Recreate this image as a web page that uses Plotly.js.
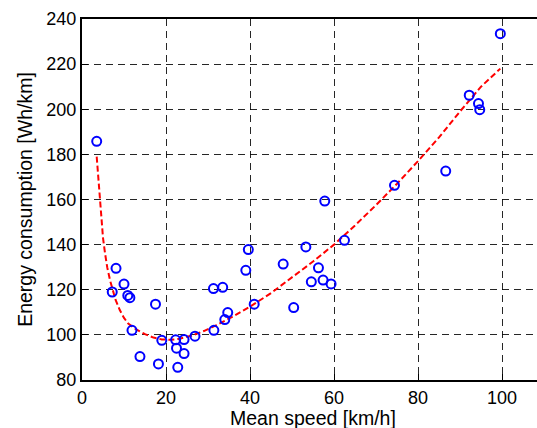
<!DOCTYPE html>
<html>
<head>
<meta charset="utf-8">
<script src="https://cdn.plot.ly/plotly-3.0.1.min.js"></script>
<style>
  html, body { margin: 0; padding: 0; overflow: hidden; background: #fff; }
  #chart { width: 560px; height: 428px; }
</style>
</head>
<body>
<div id="chart"></div>
<script>
// Measured trips: mean speed [km/h] and energy consumption [Wh/km]
const speed = [3.5, 7.2, 8.1, 10.0, 10.9, 11.4, 11.9, 13.8, 17.5, 18.2,
               19.0, 22.3, 22.5, 22.8, 24.3, 24.3, 26.9, 31.3, 31.4, 33.5,
               34.0, 34.7, 39.0, 39.6, 41.0, 47.9, 50.4, 53.3, 54.6, 56.3,
               57.4, 57.8, 59.3, 62.5, 74.4, 86.6, 92.2, 94.4, 94.7, 99.6];
const energy = [185.8, 119.0, 129.5, 122.5, 117.5, 116.5, 102.0, 90.4, 113.6, 87.1,
                97.6, 97.8, 94.1, 85.6, 97.9, 91.7, 99.4, 120.5, 102.0, 121.1,
                106.8, 109.9, 128.6, 137.8, 113.6, 131.4, 112.1, 139.0, 123.5, 129.7,
                124.3, 159.3, 122.6, 141.9, 166.3, 172.6, 206.2, 202.5, 199.8, 233.5];

// Fitted consumption curve
const fitSpeed = [3.5, 4.3, 5.0, 5.5, 6.0, 6.7, 7.4, 8.0, 9.0, 10, 11, 12, 13, 15, 17, 19, 21,
                  23, 26, 29, 32, 36, 40, 45, 50, 55, 60, 65, 70, 75, 80, 85, 90, 95, 99.6];
const fitEnergy = [179, 160, 143, 136, 130, 124, 119.5, 115.5, 111, 107.5, 105, 103.5, 102.3,
                   100.3, 98.8, 98, 97.8, 98.2, 99.6, 101.7, 104.3, 108.2, 112.5, 118.5, 125.3,
                   132.5, 140, 148.5, 157.5, 167, 177, 187.5, 199, 210, 218];

const xTicks = [0, 20, 40, 60, 80, 100];
const yTicks = [80, 100, 120, 140, 160, 180, 200, 220, 240];
const xLabel = 'Mean speed [km/h]';
const yLabel = 'Energy consumption [Wh/km]';

const font = 'Liberation Sans, Arial, Helvetica, sans-serif';

const traces = [
  {
    x: fitSpeed, y: fitEnergy, type: 'scatter', mode: 'lines',
    line: { color: '#ff0000', width: 2, dash: '6px,3px' },
    hoverinfo: 'skip'
  },
  {
    x: speed, y: energy, type: 'scatter', mode: 'markers',
    marker: { symbol: 'circle-open', size: 9, color: '#0000ff', line: { width: 2, color: '#0000ff' } }
  }
];

const gridStyle = {
  showgrid: true, gridcolor: 'rgba(0,0,0,0.85)', gridwidth: 1, griddash: '7px,5px',
  zeroline: false, showline: true, linecolor: '#000', linewidth: 2, mirror: true,
  ticks: 'inside', ticklen: 6, tickcolor: '#000', tickwidth: 1,
  tickfont: { family: font, size: 18, color: '#000' }
};

const layout = {
  width: 560, height: 428,
  margin: { l: 82, r: 16, t: 19, b: 48 },
  paper_bgcolor: '#fff', plot_bgcolor: '#fff',
  showlegend: false,
  xaxis: Object.assign({}, gridStyle, {
    range: [0, 110], tickvals: xTicks, ticktext: xTicks.map(String)
  }),
  yaxis: Object.assign({}, gridStyle, {
    range: [80, 240], tickvals: yTicks, ticktext: yTicks.map(String),
    title: { text: yLabel, font: { family: font, size: 19.5, color: '#000' } }
  }),
  // x-axis label placed just under the tick labels, near the bottom edge
  annotations: [{
    text: xLabel, xref: 'paper', yref: 'paper', x: 0.5, y: 0,
    xanchor: 'center', yanchor: 'bottom', yshift: -51, showarrow: false,
    font: { family: font, size: 19.5, color: '#000' }
  }]
};

Plotly.newPlot('chart', traces, layout, { displayModeBar: false, staticPlot: true });
</script>
</body>
</html>
